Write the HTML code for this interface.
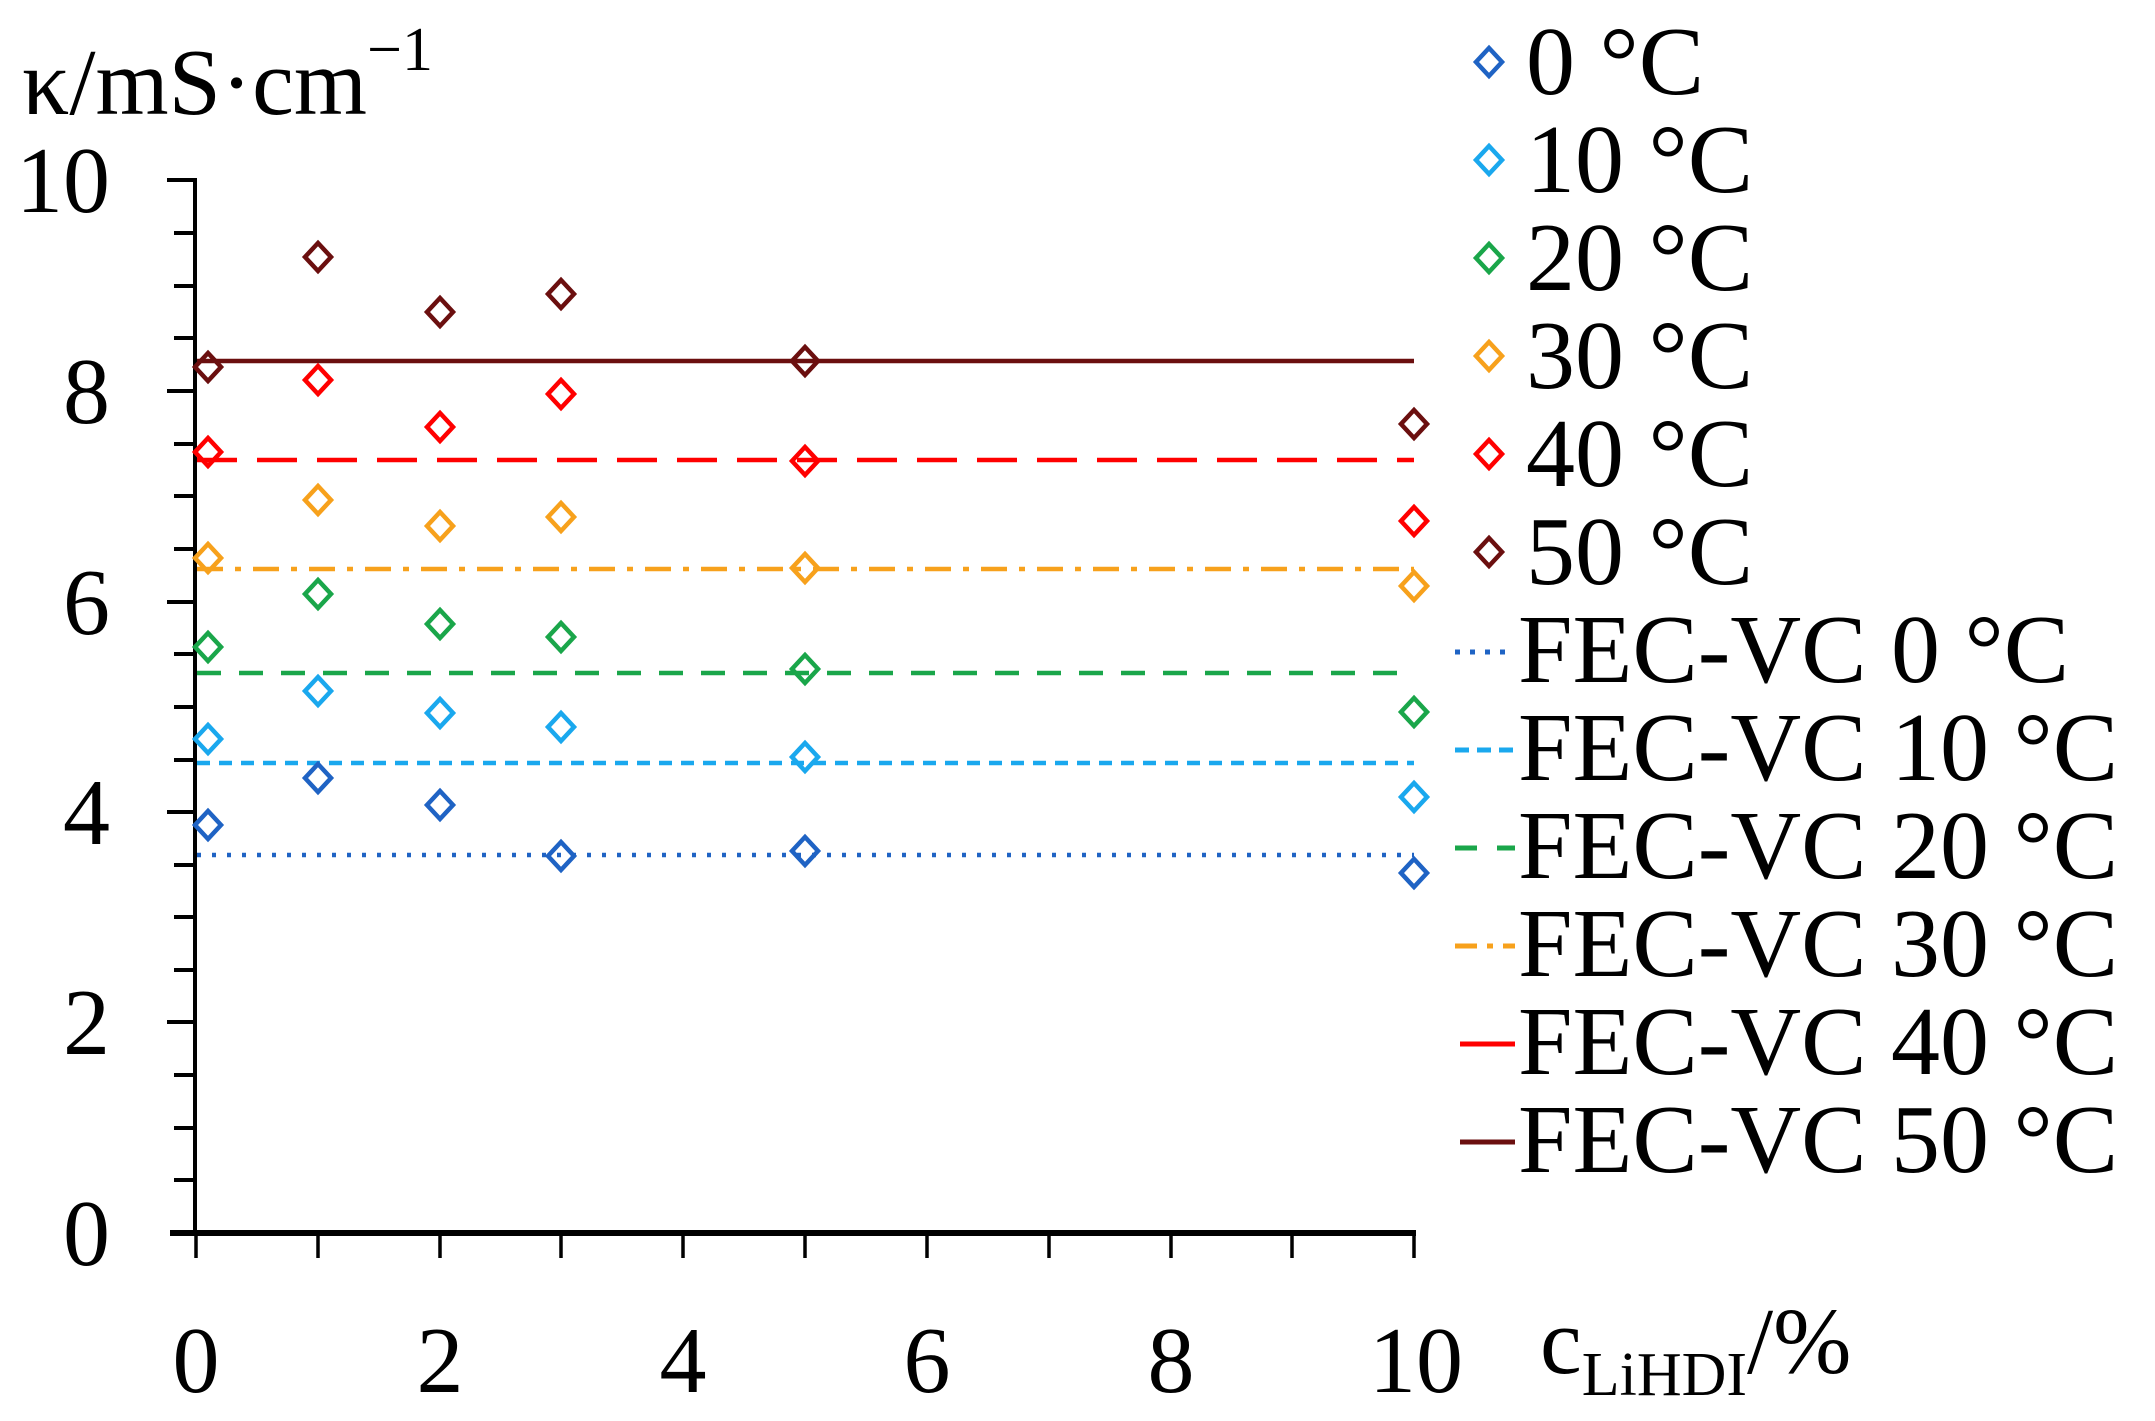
<!DOCTYPE html>
<html><head><meta charset="utf-8"><style>
html,body{margin:0;padding:0;background:#fff;}
svg{display:block;}
text{font-family:"Liberation Serif",serif;fill:#000;}
</style></head><body>
<svg width="2155" height="1421" viewBox="0 0 2155 1421" xmlns="http://www.w3.org/2000/svg">
<defs>
<path id="d" d="M0,-14 L13,0 L0,14 L-13,0 Z" fill="none" stroke-width="4.5"/>
</defs>
<g stroke="#000" stroke-width="4">
<line x1="195" y1="178" x2="195" y2="1235"/>
<line x1="170" y1="1233" x2="1416" y2="1233" stroke-width="6"/>
<line x1="167" y1="180" x2="197" y2="180"/>
<line x1="167" y1="391" x2="197" y2="391"/>
<line x1="167" y1="602" x2="197" y2="602"/>
<line x1="167" y1="812" x2="197" y2="812"/>
<line x1="167" y1="1022" x2="197" y2="1022"/>
<line x1="174" y1="233" x2="197" y2="233"/>
<line x1="174" y1="286" x2="197" y2="286"/>
<line x1="174" y1="338" x2="197" y2="338"/>
<line x1="174" y1="444" x2="197" y2="444"/>
<line x1="174" y1="496" x2="197" y2="496"/>
<line x1="174" y1="549" x2="197" y2="549"/>
<line x1="174" y1="654" x2="197" y2="654"/>
<line x1="174" y1="707" x2="197" y2="707"/>
<line x1="174" y1="760" x2="197" y2="760"/>
<line x1="174" y1="865" x2="197" y2="865"/>
<line x1="174" y1="917" x2="197" y2="917"/>
<line x1="174" y1="970" x2="197" y2="970"/>
<line x1="174" y1="1075" x2="197" y2="1075"/>
<line x1="174" y1="1128" x2="197" y2="1128"/>
<line x1="174" y1="1180" x2="197" y2="1180"/>
</g>
<g stroke="#000" stroke-width="3.5">
<line x1="196" y1="1233" x2="196" y2="1258"/>
<line x1="318" y1="1233" x2="318" y2="1258"/>
<line x1="440" y1="1233" x2="440" y2="1258"/>
<line x1="561" y1="1233" x2="561" y2="1258"/>
<line x1="683" y1="1233" x2="683" y2="1258"/>
<line x1="805" y1="1233" x2="805" y2="1258"/>
<line x1="927" y1="1233" x2="927" y2="1258"/>
<line x1="1049" y1="1233" x2="1049" y2="1258"/>
<line x1="1171" y1="1233" x2="1171" y2="1258"/>
<line x1="1292" y1="1233" x2="1292" y2="1258"/>
<line x1="1414" y1="1233" x2="1414" y2="1258"/>
</g>
<g font-size="94" text-anchor="end">
<text x="110" y="212">10</text>
<text x="110" y="423">8</text>
<text x="110" y="634">6</text>
<text x="110" y="844">4</text>
<text x="110" y="1054">2</text>
<text x="110" y="1265">0</text>
</g>
<g font-size="94" text-anchor="middle">
<text x="196" y="1392">0</text>
<text x="440" y="1392">2</text>
<text x="683" y="1392">4</text>
<text x="927" y="1392">6</text>
<text x="1171" y="1392">8</text>
<text x="1416" y="1392">10</text>
</g>
<text x="1540" y="1373" font-size="94">c<tspan font-size="62" dy="22">LiHDI</tspan><tspan dy="-22">/%</tspan></text>
<text x="22" y="114" font-size="94">κ/mS·cm<tspan font-size="62" dy="-44">−1</tspan></text>
<g stroke-width="4.5" fill="none">
<line x1="197" y1="361" x2="1414" y2="361" stroke="#6b0f0f"/>
<line x1="197" y1="460" x2="1414" y2="460" stroke="#ff0000" stroke-dasharray="40 20"/>
<line x1="197" y1="569" x2="1414" y2="569" stroke="#f7a11c" stroke-dasharray="26 12 6 12"/>
<line x1="197" y1="673" x2="1414" y2="673" stroke="#1aa64a" stroke-dasharray="24 18"/>
<line x1="197" y1="763" x2="1414" y2="763" stroke="#1aa8ee" stroke-dasharray="13 9"/>
<line x1="197" y1="855" x2="1414" y2="855" stroke="#1f63c4" stroke-dasharray="4 11"/>
</g>
<g stroke="#6b0f0f">
<use href="#d" x="208" y="367"/><use href="#d" x="318" y="257"/><use href="#d" x="440" y="312"/><use href="#d" x="561" y="294"/><use href="#d" x="805" y="361"/><use href="#d" x="1414" y="424"/>
</g>
<g stroke="#ff0000">
<use href="#d" x="208" y="452"/><use href="#d" x="318" y="380"/><use href="#d" x="440" y="427"/><use href="#d" x="561" y="394"/><use href="#d" x="805" y="461"/><use href="#d" x="1414" y="521"/>
</g>
<g stroke="#f7a11c">
<use href="#d" x="208" y="558"/><use href="#d" x="318" y="500"/><use href="#d" x="440" y="526"/><use href="#d" x="561" y="517"/><use href="#d" x="805" y="568"/><use href="#d" x="1414" y="586"/>
</g>
<g stroke="#1aa64a">
<use href="#d" x="208" y="647"/><use href="#d" x="318" y="594"/><use href="#d" x="440" y="624"/><use href="#d" x="561" y="637"/><use href="#d" x="805" y="669"/><use href="#d" x="1414" y="712"/>
</g>
<g stroke="#1aa8ee">
<use href="#d" x="208" y="739"/><use href="#d" x="318" y="691"/><use href="#d" x="440" y="713"/><use href="#d" x="561" y="727"/><use href="#d" x="805" y="757"/><use href="#d" x="1414" y="797"/>
</g>
<g stroke="#1f63c4">
<use href="#d" x="208" y="825"/><use href="#d" x="318" y="778"/><use href="#d" x="440" y="805"/><use href="#d" x="561" y="856"/><use href="#d" x="805" y="851"/><use href="#d" x="1414" y="873"/>
</g>
<g>
<use href="#d" x="1489" y="62" stroke="#1f63c4"/>
<use href="#d" x="1489" y="160" stroke="#1aa8ee"/>
<use href="#d" x="1489" y="258" stroke="#1aa64a"/>
<use href="#d" x="1489" y="356" stroke="#f7a11c"/>
<use href="#d" x="1489" y="454" stroke="#ff0000"/>
<use href="#d" x="1489" y="552" stroke="#6b0f0f"/>
</g>
<g stroke-width="5" fill="none">
<line x1="1455" y1="652" x2="1515" y2="652" stroke="#1f63c4" stroke-dasharray="5 10"/>
<line x1="1455" y1="750" x2="1515" y2="750" stroke="#1aa8ee" stroke-dasharray="14 8"/>
<line x1="1455" y1="848" x2="1515" y2="848" stroke="#1aa64a" stroke-dasharray="22 20"/>
<line x1="1455" y1="946" x2="1515" y2="946" stroke="#f7a11c" stroke-dasharray="22 10 6 10"/>
<line x1="1460" y1="1044" x2="1515" y2="1044" stroke="#ff0000"/>
<line x1="1460" y1="1142" x2="1515" y2="1142" stroke="#6b0f0f"/>
</g>
<g font-size="98">
<text x="1526" y="94">0 °C</text>
<text x="1526" y="192">10 °C</text>
<text x="1526" y="290">20 °C</text>
<text x="1526" y="388">30 °C</text>
<text x="1526" y="486">40 °C</text>
<text x="1526" y="584">50 °C</text>
<text x="1518" y="682">FEC-VC 0 °C</text>
<text x="1518" y="780">FEC-VC 10 °C</text>
<text x="1518" y="878">FEC-VC 20 °C</text>
<text x="1518" y="976">FEC-VC 30 °C</text>
<text x="1518" y="1074">FEC-VC 40 °C</text>
<text x="1518" y="1172">FEC-VC 50 °C</text>
</g>
</svg>
</body></html>
